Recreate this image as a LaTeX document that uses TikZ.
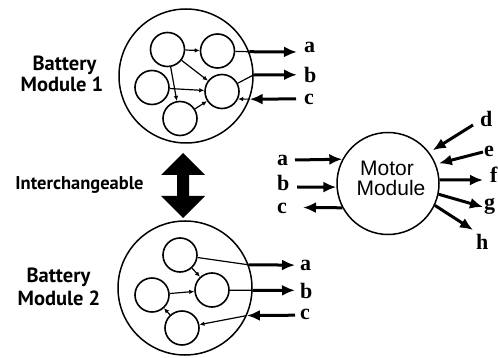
\documentclass[tikz,border=0pt]{standalone}
\usepackage{fontspec}
\setmainfont{Liberation Serif}
\newfontfamily\titlefont{PT Sans}
\newfontfamily\motorfont{Liberation Sans}
\usetikzlibrary{arrows.meta}

\tikzset{
  outer/.style={circle, draw, line width=1.5pt, minimum size=134pt, inner sep=0pt},
  cell/.style={circle, draw, line width=1.6pt, minimum size=34pt, inner sep=0pt},
  link/.style={line width=1.2pt, -{Latex[length=5pt,width=4.5pt]}},
  wire/.style={line width=1.2pt},
  bus/.style={line width=3pt, -{Latex[length=13pt,width=11pt]}},
  sig/.style={font=\bfseries\fontsize{22}{22}\selectfont, inner sep=0pt, anchor=base west},
  title/.style={font=\titlefont\bfseries\fontsize{20.5}{22}\selectfont, inner sep=0pt, anchor=base},
}

\begin{document}
\begin{tikzpicture}[x=1pt,y=-1pt]
\useasboundingbox (0,0) rectangle (498,358);

% battery module 1
\node[outer] (bm1) at (186,76) {};
\node[cell] (c1tl) at (167.5,49.5) {};
\node[cell] (c1tr) at (217.5,51) {};
\node[cell] (c1l) at (152,87.5) {};
\node[cell] (c1r) at (222,91.5) {};
\node[cell] (c1b) at (180,118.5) {};
\draw[link] (c1tl) -- (c1tr);
\draw[link] (c1tl) -- (c1r);
\draw[link] (c1tl) -- (c1b);
\draw[link] (c1l) -- (c1r);
\draw[link] (c1b) -- (c1r);
\coordinate (a1) at (297,52);
\coordinate (b1) at (297,74.8);
\coordinate (c1) at (296,98.9);
\draw[wire] (c1tr) -- (bm1.21);
\draw[bus] (bm1.21) -- (a1);
\draw[wire] (c1r) -- (bm1.1);
\draw[bus] (bm1.1) -- (b1);
\draw[bus] (c1) -- (bm1.-20);
\draw[link] (bm1.-20) -- (c1r.-25);
\node[sig] (la1) at (304,53) {a};
\node[sig] (lb1) at (304,83) {b};
\node[sig] (lc1) at (304,105) {c};
\node[title] (bat1) at (64.5,71) {Battery};
\node[title] (mod1) at (62,92) {Module 1};

% swap arrow
\fill (183,153) -- (205,175) -- (189,175) -- (189,196) -- (205,196) -- (183,218)
  -- (161,196) -- (177,196) -- (177,175) -- (161,175) -- cycle;
\node[font=\titlefont\bfseries\fontsize{18.5}{20}\selectfont, inner sep=0pt, anchor=base] (swap) at (79.5,190) {Interchangeable};

% battery module 2
\node[outer] (bm2) at (185,288) {};
\node[cell] (c2t) at (180,255) {};
\node[cell] (c2l) at (152,295) {};
\node[cell] (c2m) at (212,290) {};
\node[cell] (c2b) at (182,328) {};
\draw[link] (c2t) -- (c2m);
\draw[link] (c2l) -- (c2m);
\draw[link] (c2b) -- (c2l);
\coordinate (a2) at (295,265.1);
\coordinate (b2) at (295,290.3);
\coordinate (c2) at (295,315.2);
\draw[wire] (c2t) -- (bm2.20);
\draw[bus] (bm2.20) -- (a2);
\draw[wire] (c2m) -- (bm2.-2);
\draw[bus] (bm2.-2) -- (b2);
\draw[bus] (c2) -- (bm2.-24);
\draw[link] (bm2.-24) -- (c2b);
\node[sig] (la2) at (300,270) {a};
\node[sig] (lb2) at (300,298) {b};
\node[sig] (lc2) at (300,319) {c};
\node[title] (bat2) at (58.5,282) {Battery};
\node[title] (mod2) at (59,305) {Module 2};

% motor module
\node[circle, draw, line width=1.5pt, minimum size=102pt, inner sep=0pt] (mm) at (388,183.5) {};
\node[font=\motorfont\fontsize{21}{21}\selectfont, inner sep=0pt, anchor=base] (mot) at (387,176) {Motor};
\node[font=\motorfont\fontsize{21}{21}\selectfont, inner sep=0pt, anchor=base] (mdl) at (391,196) {Module};
\coordinate (ma) at (295,160);
\coordinate (mb) at (297,187);
\coordinate (mc) at (303,207.5);
\coordinate (md) at (473,125);
\coordinate (me) at (483,152);
\coordinate (mf) at (483,180);
\coordinate (mg) at (483,207);
\coordinate (mh) at (473,230);
\draw[bus] (ma) -- (mm.152.6);
\draw[bus] (mb) -- (mm.184);
\draw[bus] (mm.208.7) -- (mc);
\draw[bus, shorten >=4pt] (md) -- (mm.37);
\draw[bus, shorten >=3pt] (me) -- (mm.22);
\draw[bus] (mm.4) -- (mf);
\draw[bus] (mm.-12) -- (mg);
\draw[bus] (mm.-25) -- (mh);
\node[sig] (lma) at (277,166) {a};
\node[sig] (lmb) at (277,191) {b};
\node[sig] (lmc) at (277,214) {c};
\node[sig] (lmd) at (480,127) {d};
\node[sig] (lme) at (484,157) {e};
\node[sig] (lmf) at (490,183) {f};
\node[sig] (lmg) at (484,210) {g};
\node[sig] (lmh) at (476,250) {h};
\end{tikzpicture}
\end{document}
